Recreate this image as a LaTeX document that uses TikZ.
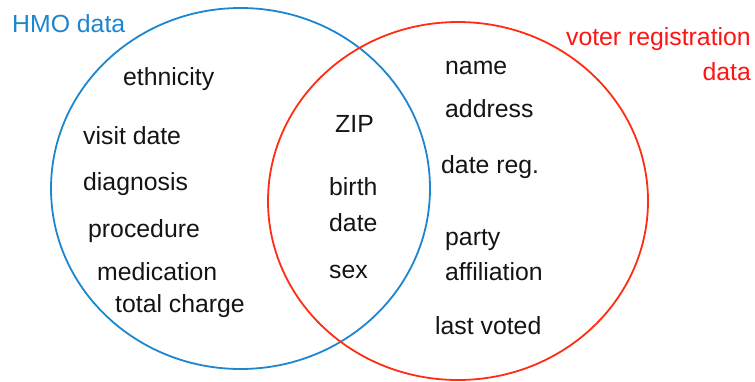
\documentclass[tikz,border=0pt]{standalone}
\usepackage{fontspec}
\setmainfont{Liberation Sans}
\definecolor{hmoblue}{RGB}{28,134,206}
\definecolor{voterred}{RGB}{255,45,20}
\definecolor{voterText}{RGB}{255,20,20}
\definecolor{txt}{RGB}{20,20,20}
\begin{document}
\begin{tikzpicture}[x=1pt,y=-1pt,
  lbl/.style={anchor=base west,inner sep=0pt,text=txt,font=\fontsize{24.8}{28}\selectfont},
  ring/.style={line width=1.8pt}]
\useasboundingbox (0,0) rectangle (755,381);
\draw[ring,hmoblue] (240.5,188.5) ellipse [x radius=189.5, y radius=180.5];
\draw[ring,voterred] (458,201) ellipse [x radius=190, y radius=179];
\node[lbl,text=hmoblue] (hmo) at (12,32) {HMO data};
\node[lbl,text=voterText,anchor=base east] (voter) at (751,45) {voter registration};
\node[lbl,text=voterText,anchor=base east] (voter2) at (751,80) {data};
\node[lbl] (eth) at (123,85) {ethnicity};
\node[lbl] (visit) at (83,144) {visit date};
\node[lbl] (diag) at (83,190) {diagnosis};
\node[lbl] (proc) at (88,237) {procedure};
\node[lbl] (med) at (97,280) {medication};
\node[lbl] (tot) at (115,312) {total charge};
\node[lbl] (zip) at (335,132) {ZIP};
\node[lbl] (birth) at (329,195) {birth};
\node[lbl] (date) at (329,231) {date};
\node[lbl] (sex) at (329,278) {sex};
\node[lbl] (name) at (445,74) {name};
\node[lbl] (addr) at (445,117) {address};
\node[lbl] (dreg) at (441,173) {date reg.};
\node[lbl] (party) at (445,245) {party};
\node[lbl] (aff) at (445,280) {affiliation};
\node[lbl] (last) at (435,334) {last voted};
\end{tikzpicture}
\end{document}
